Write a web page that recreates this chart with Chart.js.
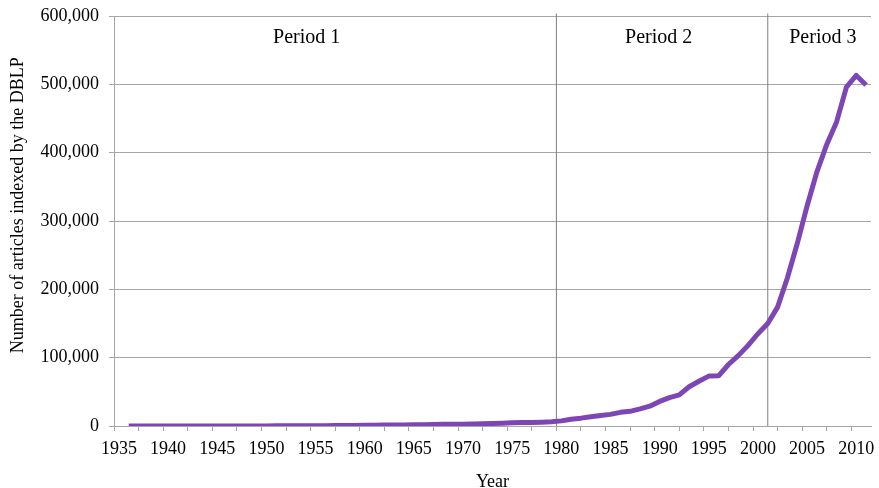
<!DOCTYPE html>
<html>
<head>
<meta charset="utf-8">
<script src="https://cdn.jsdelivr.net/npm/chart.js@4/dist/chart.umd.min.js"></script>
<style>
html,body{margin:0;padding:0;background:#fff;}
#wrap{width:879px;height:488px;}
</style>
</head>
<body>
<div id="wrap"><canvas id="c" width="879" height="488"></canvas></div>
<script>
const years = [];
for (let y = 1936; y <= 2011; y++) years.push(y);

const articles = [
  20, 30, 30, 40, 40, 40, 40, 50, 50, 60,            // 1936-1945
  80, 100, 120, 150, 180, 220, 260, 320, 360, 420,   // 1946-1955
  480, 550, 650, 800, 950, 1100, 1300, 1400, 1500, 1700, // 1956-1965
  1900, 2100, 2400, 2500, 2700, 3000, 3300, 3700, 4200, 4700, // 1966-1975
  5000, 5300, 5600, 6200, 7500, 10000, 11500, 13500, 15500, 17000, // 1976-1985
  20000, 21500, 25000, 29000, 36000, 41500, 45500, 57500, 65500, 73000, // 1986-1995
  73500, 90000, 103000, 118000, 135000, 150000, 174000, 217000, 267000, 322000, // 1996-2005
  372000, 412000, 445000, 496000, 513000, 499000      // 2006-2011
];

const yearLabels = [1935,1940,1945,1950,1955,1960,1965,1970,1975,1980,1985,1990,1995,2000,2005,2010];
const yTicks = [0, 100000, 200000, 300000, 400000, 500000, 600000];
const periodBounds = [1979.5, 2001];
const periodNames = ['Period 1', 'Period 2', 'Period 3'];
const periodLabelYears = [1954.1, 1989.9, 2006.6];
const periodLabelValue = 568500;

const FONT = "'Liberation Serif', 'Times New Roman', serif";
const GRID = '#a6a6a6';

const tickMarks = [];
for (let v = 1934.5; v < 2011.5; v += 2.5) tickMarks.push(v);

const periodPlugin = {
  id: 'periodLabels',
  afterDatasetsDraw(chart) {
    const {ctx, scales:{x, y}} = chart;
    ctx.save();
    ctx.font = '20px ' + FONT;
    ctx.fillStyle = '#000';
    ctx.textAlign = 'center';
    ctx.textBaseline = 'middle';
    periodNames.forEach((n, i) => {
      ctx.fillText(n, x.getPixelForValue(periodLabelYears[i]), y.getPixelForValue(periodLabelValue));
    });
    ctx.restore();
  }
};

const datasets = [{
  label: 'Articles',
  data: years.map((yr, i) => ({x: yr, y: articles[i]})),
  borderColor: '#7e46b4',
  borderWidth: 5,
  pointRadius: 0,
  tension: 0,
  fill: false,
  order: 0,
  borderJoinStyle: 'round'
}];
periodBounds.forEach(b => {
  datasets.push({
    label: 'bound',
    data: [{x: b, y: 0}, {x: b, y: 603500}],
    borderColor: '#7f7f7f',
    borderWidth: 1,
    pointRadius: 0,
    fill: false,
    clip: false,
    order: 1
  });
});

const NB = '\u00A0';

new Chart(document.getElementById('c'), {
  type: 'line',
  data: { datasets },
  plugins: [periodPlugin],
  options: {
    responsive: false,
    animation: false,
    events: [],
    layout: { padding: { top: 16, right: 8, bottom: 0, left: 0 } },
    plugins: { legend: { display: false }, tooltip: { enabled: false } },
    scales: {
      x: {
        type: 'linear',
        min: 1934.5,
        max: 2011.5,
        afterBuildTicks: s => {
          const all = tickMarks.concat(yearLabels).sort((a, b) => a - b);
          s.ticks = all.map(v => ({value: v}));
        },
        afterFit: s => { s.height = 62; s.paddingLeft = 0; s.paddingRight = 0; },
        ticks: {
          autoSkip: false,
          maxRotation: 0,
          padding: 7,
          color: '#000',
          font: { family: FONT, size: 18 },
          callback: v => (Number.isInteger(v) && v % 5 === 0) ? String(v) : ''
        },
        grid: {
          drawOnChartArea: false,
          tickLength: 5,
          tickColor: ctx => (ctx.tick && Number.isInteger(ctx.tick.value) && ctx.tick.value % 5 === 0) ? 'rgba(0,0,0,0)' : GRID
        },
        border: { display: true, color: GRID, width: 1 },
        title: {
          display: true,
          text: 'Year',
          color: '#000',
          font: { family: FONT, size: 18, lineHeight: 0.8 },
          padding: { top: 0, bottom: -1 }
        }
      },
      y: {
        min: 0,
        max: 600000,
        afterBuildTicks: s => { s.ticks = yTicks.map(v => ({value: v})); },
        afterFit: s => { s.width = 114; s.paddingTop = 0; s.paddingBottom = 0; },
        ticks: {
          padding: 10,
          color: '#000',
          font: { family: FONT, size: 18 },
          callback: v => Number(v).toLocaleString('en-US')
        },
        grid: { color: GRID, tickLength: 5, tickColor: GRID },
        border: { display: true, color: GRID, width: 1 },
        title: {
          display: true,
          text: NB.repeat(7) + 'Number of articles indexed by the DBLP',
          color: '#000',
          font: { family: FONT, size: 18 },
          padding: { top: 7, bottom: 0 }
        }
      }
    }
  }
});
</script>
</body>
</html>
